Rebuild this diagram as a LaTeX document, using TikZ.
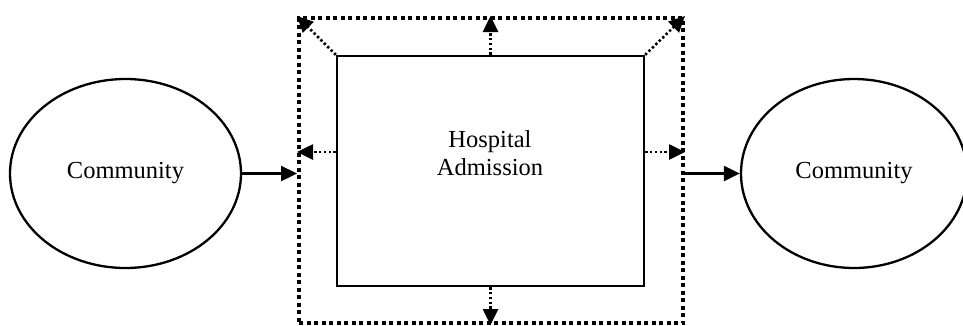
\documentclass[tikz,border=0pt]{standalone}
\usepackage{fontspec}
\setmainfont{Liberation Serif}
\usetikzlibrary{arrows.meta,shapes.geometric}
\begin{document}
\begin{tikzpicture}[x=1pt,y=-1pt,
  txt/.style={font=\fontsize{24.5}{28}\selectfont, align=center, inner sep=0pt},
  commu/.style={draw, line width=2.3pt, ellipse, inner sep=0pt, txt},
  outerbox/.style={draw, line width=4pt, dash pattern=on 4pt off 3.5pt, minimum width=384pt, minimum height=305pt, inner sep=0pt},
  innerbox/.style={draw, line width=2.3pt, minimum width=307pt, minimum height=230pt, inner sep=0pt},
  solidarrow/.style={line width=2.3pt, -{Triangle[length=16pt,width=15pt]}},
  dotarrow/.style={line width=2.6pt, dash pattern=on 2.4pt off 2.4pt, -{Triangle[length=16pt,width=15pt]}}
]
\useasboundingbox (0,0) rectangle (963,325);
\begin{scope}
\clip (0,0) rectangle (963,325);
\node[commu, minimum width=231pt, minimum height=189pt] (lc) at (125.5,173.5) {Community};
\node[commu, minimum width=226pt, minimum height=189pt] (rc) at (854,173.5) {Community};
\end{scope}
\node[outerbox] (outer) at (491,170.5) {};
\node[innerbox] (inner) at (490.5,171) {};
\node[txt] (hosp) at (490,153) {Hospital\\Admission};
\coordinate (ly) at (0,152);
\draw[solidarrow] (lc.east) -- (outer.west |- lc.east);
\draw[solidarrow] (outer.east |- rc.west) -- (rc.west);
\draw[dotarrow] (inner.west |- ly) -- (outer.west |- ly);
\draw[dotarrow] (inner.east |- ly) -- (outer.east |- ly);
\draw[dotarrow] (inner.north) -- (inner.north |- outer.north);
\draw[dotarrow] (inner.south) -- (inner.south |- outer.south);
\draw[dotarrow] (inner.north west) -- (outer.north west);
\draw[dotarrow] (inner.north east) -- (outer.north east);
\end{tikzpicture}
\end{document}
